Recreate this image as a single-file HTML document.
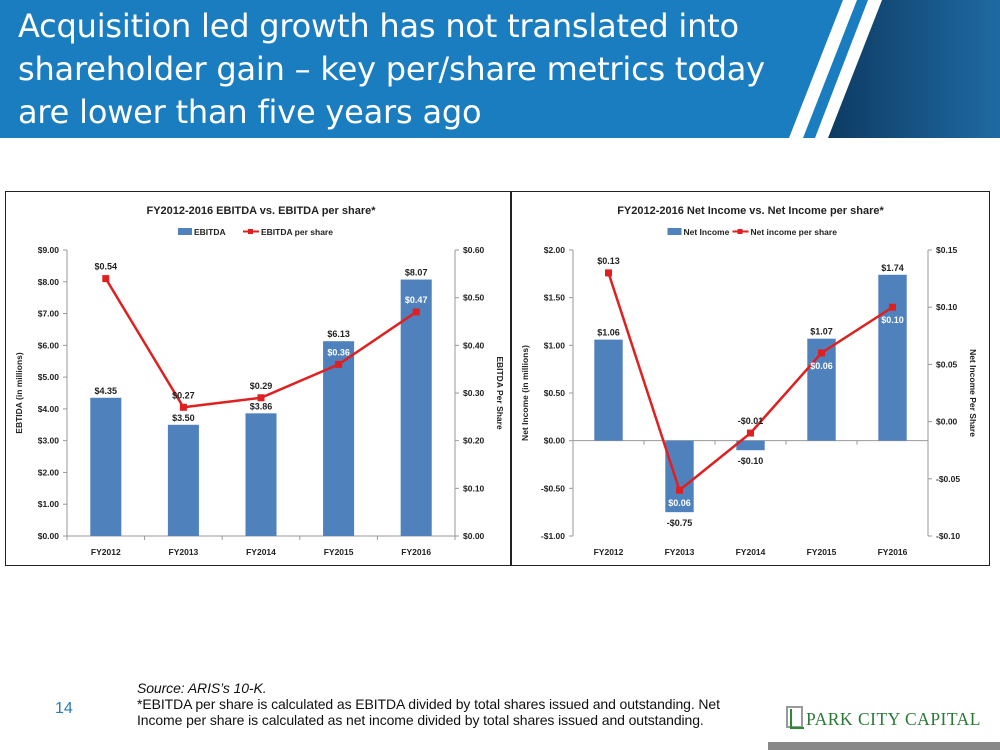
<!DOCTYPE html>
<html><head><meta charset="utf-8"><style>
body{margin:0;width:1000px;height:750px;position:relative;background:#fff;overflow:hidden;font-family:"Liberation Sans",sans-serif}
#hdr{position:absolute;left:0;top:0;width:1000px;height:138px}
#title{position:absolute;left:18px;top:5px;color:#fff;font-size:32px;line-height:43px;font-family:"DejaVu Sans","Liberation Sans",sans-serif;letter-spacing:-0.2px}
.box{position:absolute;border:1.5px solid #222;background:#fff}
svg text{font-family:"Liberation Sans",sans-serif;font-weight:bold}
</style></head><body>
<svg id="hdr" width="1000" height="138">
<defs><linearGradient id="g" x1="0" x2="1"><stop offset="0" stop-color="#0d3b62"/><stop offset="1" stop-color="#1f6aa3"/></linearGradient></defs>
<rect width="1000" height="138" fill="#1a7dc0"/>
<polygon points="882,0 1000,0 1000,138 828,138" fill="url(#g)"/>
<polygon points="843,0 857,0 803,138 789,138" fill="#fff"/>
<polygon points="868,0 882,0 828,138 815,138" fill="#fff"/>
</svg>
<div id="title">Acquisition led growth has not translated into<br>shareholder gain – key per/share metrics today<br>are lower than five years ago</div>
<div class="box" style="left:5px;top:191px;width:504px;height:373px"></div>
<div class="box" style="left:511px;top:191px;width:477px;height:373px"></div>
<svg id="c" width="1000" height="750" style="position:absolute;left:0;top:0"></svg>
<div style="position:absolute;left:55px;top:700px;color:#2a7ab8;font-size:16px">14</div>
<div style="position:absolute;left:137px;top:680px;font-size:14px;line-height:16px;color:#111;letter-spacing:-0.1px"><i>Source: ARIS’s 10-K.</i><br>*EBITDA per share is calculated as EBITDA divided by total shares issued and outstanding. Net<br>Income per share is calculated as net income divided by total shares issued and outstanding.</div>
<div style="position:absolute;left:786px;top:706px;width:13px;height:18px;border:2px solid #999"></div>
<div style="position:absolute;left:790px;top:709px;width:12px;height:18px;border-left:2px solid #2a8a3a;border-bottom:2px solid #2a8a3a"></div>
<div style="position:absolute;left:806px;top:709px;color:#2a7a35;font-family:'Liberation Serif',serif;font-size:17.5px;letter-spacing:0.5px">PARK CITY CAPITAL</div>
<div style="position:absolute;left:768px;top:742px;width:232px;height:8px;background:#888"></div>
<script>
const categories=["FY2012","FY2013","FY2014","FY2015","FY2016"];
const ebitda=[4.35,3.50,3.86,6.13,8.07];
const ebitdaPS=[0.54,0.27,0.29,0.36,0.47];
const ebitdaTicks=[0,1,2,3,4,5,6,7,8,9];
const ebitdaPSTicks=[0,0.1,0.2,0.3,0.4,0.5,0.6];
const netIncome=[1.06,-0.75,-0.10,1.07,1.74];
const netIncomePS=[0.13,-0.06,-0.01,0.06,0.10];
const niTicks=[-1,-0.5,0,0.5,1,1.5,2];
const niPSTicks=[-0.10,-0.05,0,0.05,0.10,0.15];
const niPSLabelSide=["above","below","above","below","below"];
const S="http://www.w3.org/2000/svg",svg=document.getElementById('c');
function el(t,a,txt){const e=document.createElementNS(S,t);for(const k in a)e.setAttribute(k,a[k]);if(txt!=null)e.textContent=txt;svg.appendChild(e);return e;}
function money(v,d){return (v<0?"-$":"$")+Math.abs(v).toFixed(d);}
function chart(o){
 const {x0,x1,y0,y1,bars,line,lt,rt,title,leg,yl,yr,side}=o;
 const lmin=lt[0],lmax=lt[lt.length-1],rmin=rt[0],rmax=rt[rt.length-1];
 const yL=v=>y1-(v-lmin)/(lmax-lmin)*(y1-y0), yR=v=>y1-(v-rmin)/(rmax-rmin)*(y1-y0);
 const cw=(x1-x0)/categories.length, xc=i=>x0+cw*(i+0.5), bw=cw*0.4;
 let t=el('text',{x:(x0+x1)/2,y:214,'text-anchor':'middle','font-size':11,fill:'#222'},title);
 
 const lx=(x0+x1)/2;
 let r=el('rect',{x:lx-83,y:228,width:14,height:7,fill:'#4f81bd'});
 
 el('text',{x:lx-67,y:235,'font-size':8.5,fill:'#222'},leg[0]);
 el('line',{x1:lx-18,x2:lx-2,y1:231.5,y2:231.5,stroke:'#e02020','stroke-width':2});
 el('rect',{x:lx-13,y:229,width:5,height:5,fill:'#e02020'});
 t=el('text',{x:lx,y:235,'font-size':8.5,fill:'#222'},leg[1]);
 
 el('line',{x1:x0,x2:x0,y1:y0,y2:y1,stroke:'#999'});el('line',{x1:x1,x2:x1,y1:y0,y2:y1,stroke:'#999'});
 lt.forEach(v=>{el('line',{x1:x0-4,x2:x0,y1:yL(v),y2:yL(v),stroke:'#999'});
  el('text',{x:x0-8,y:yL(v)+3,'text-anchor':'end','font-size':8.5,fill:'#222'},money(v,2));});
 rt.forEach(v=>{el('line',{x1:x1,x2:x1+4,y1:yR(v),y2:yR(v),stroke:'#999'});
  el('text',{x:x1+8,y:yR(v)+3,'font-size':8.5,fill:'#222'},money(v,2));});
 const z=yL(Math.max(0,lmin));
 el('line',{x1:x0,x2:x1,y1:z,y2:z,stroke:'#999'});
 for(let i=0;i<=categories.length;i++)el('line',{x1:x0+cw*i,x2:x0+cw*i,y1:z,y2:z+4,stroke:'#999'});
 categories.forEach((c,i)=>el('text',{x:xc(i),y:y1+19,'text-anchor':'middle','font-size':8.5,fill:'#222'},c));
 let a=el('text',{transform:`translate(${x0-45},${(y0+y1)/2}) rotate(-90)`,'text-anchor':'middle','font-size':8.5,fill:'#222'},yl);
 
 a=el('text',{transform:`translate(${x1+42},${(y0+y1)/2}) rotate(90)`,'text-anchor':'middle','font-size':8.5,fill:'#222'},yr);
 
 bars.forEach((v,i)=>{const yt=yL(v);
  const b=el('rect',{x:xc(i)-bw/2,y:Math.min(yt,z),width:bw,height:Math.abs(z-yt),fill:'#4f81bd'});
  
  el('text',{x:xc(i),y:v>=0?yt-4:yt+14,'text-anchor':'middle','font-size':9,fill:'#222'},money(v,2));});
 el('polyline',{points:line.map((v,i)=>xc(i)+','+yR(v)).join(' '),fill:'none',stroke:'#e02020','stroke-width':2.5});
 line.forEach((v,i)=>{const p=el('rect',{x:xc(i)-3.5,y:yR(v)-3.5,width:7,height:7,fill:'#e02020'});
  
  const ly=(side&&side[i]==="below")?yR(v)+16:yR(v)-9;
  const bt=Math.min(yL(bars[i]),z),bb=Math.max(yL(bars[i]),z);
  const inside=ly-8>bt&&ly<bb;
  el('text',{x:xc(i),y:ly,'text-anchor':'middle','font-size':9,fill:inside?'#fff':'#222'},money(Math.abs(v)<0.001?0:v,2).replace("-$",i==1&&side?"$":"-$"));});
}
chart({x0:67,x1:455,y0:250,y1:536,bars:ebitda,line:ebitdaPS,lt:ebitdaTicks,rt:ebitdaPSTicks,title:"FY2012-2016 EBITDA vs. EBITDA per share*",leg:["EBITDA","EBITDA per share"],yl:"EBTIDA (in millions)",yr:"EBITDA Per Share"});
chart({x0:573,x1:928,y0:250,y1:536,bars:netIncome,line:netIncomePS,lt:niTicks,rt:niPSTicks,title:"FY2012-2016 Net Income vs. Net Income per share*",leg:["Net Income","Net income per share"],yl:"Net  Income (in millions)",yr:"Net Income Per Share",side:niPSLabelSide});
</script>
</body></html>
